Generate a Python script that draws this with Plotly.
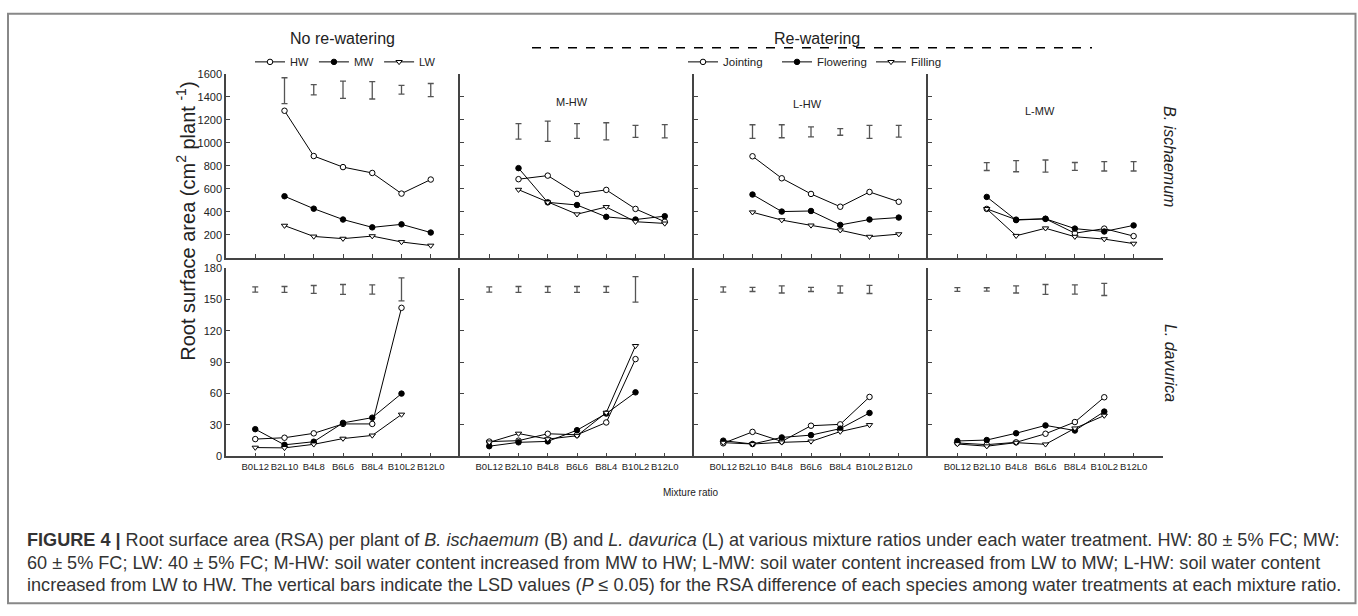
import plotly.graph_objects as go

W, H = 1358, 616

categories = ["B0L12", "B2L10", "B4L8", "B6L6", "B8L4", "B10L2", "B12L0"]
b_cats = categories[1:]   # B. ischaemum present
l_cats = categories[:6]   # L. davurica present

# ---- B. ischaemum RSA (cm2 plant-1) ----
b_none_HW = [1278, 885, 789, 738, 559, 681]
b_none_MW = [536, 428, 334, 266, 292, 221]
b_none_LW = [281, 187, 168, 190, 139, 108]
b_mhw_joint = [684, 715, 557, 591, 426, 315]
b_mhw_flower = [780, 483, 460, 357, 334, 363]
b_mhw_fill = [593, 483, 380, 443, 315, 300]
b_lhw_joint = [883, 692, 556, 445, 573, 488]
b_lhw_flower = [551, 403, 408, 287, 334, 351]
b_lhw_fill = [397, 329, 283, 241, 185, 207]
b_lmw_joint = [426, 333, 340, 215, 255, 190]
b_lmw_flower = [530, 329, 340, 255, 230, 283]
b_lmw_fill = [426, 193, 258, 185, 164, 125]

# ---- L. davurica RSA (cm2 plant-1) ----
l_none_HW = [16.5, 17.8, 22, 31, 31, 142]
l_none_MW = [26, 11, 14, 32, 37, 60]
l_none_LW = [8.4, 8.1, 11.5, 17, 20, 40]
l_mhw_joint = [14.1, 15, 21.6, 20.6, 32.4, 93]
l_mhw_flower = [9.7, 13.4, 14.3, 25, 40.9, 61.2]
l_mhw_fill = [13.4, 21.8, 16.5, 19.7, 41.8, 105.6]
l_lhw_joint = [12.5, 23.4, 14.3, 29.3, 30.6, 56.8]
l_lhw_flower = [15, 11.8, 18.1, 20.3, 26.5, 41.5]
l_lhw_fill = [13.1, 11.8, 13.4, 14.3, 23.7, 30]
l_lmw_joint = [12.8, 11.2, 13.4, 21.6, 32.8, 56.5]
l_lmw_flower = [14.7, 15.6, 22.1, 29.6, 24.7, 42.8]
l_lmw_fill = [11.8, 9.7, 13.1, 11.5, 26.8, 39]

# ---- LSD bars (position of bar centre and LSD length) ----
lsd_b_none_pos = [1452, 1460, 1460, 1455, 1460, 1458]
lsd_b_none = [225, 88, 150, 150, 76, 113]
lsd_b_mhw_pos = [1099, 1100, 1102, 1100, 1099, 1100]
lsd_b_mhw = [134, 175, 127, 148, 104, 114]
lsd_b_lhw_pos = [1097, 1100, 1095, 1094, 1094, 1100]
lsd_b_lhw = [119, 113, 86, 57, 113, 102]
lsd_b_lmw_pos = [794, 797, 798, 795, 796, 796]
lsd_b_lmw = [69, 97, 105, 68, 82, 82]

lsd_l_pos = [159.6, 159.6, 159.6, 159.6, 159.6, 159.6]
lsd_l_none = [5, 5.6, 7.5, 9.4, 8.8, 22]
lsd_l_mhw = [5, 5.6, 5.6, 5.6, 5.6, 24.4]
lsd_l_lhw = [5, 4, 6.8, 4, 6.8, 7.8]
lsd_l_lmw = [3.6, 3.2, 6.8, 9.4, 8.8, 11.6]

names_none = ["HW", "MW", "LW"]
names_re = ["Jointing", "Flowering", "Filling"]

FONT = "Liberation Sans, Arial, sans-serif"
AXC = "#444444"

styles = [
    dict(symbol="circle", color="white"),
    dict(symbol="circle", color="black"),
    dict(symbol="triangle-down", color="white"),
]

panels = [
    # row, col, cats, series, names, legend, lsd_pos, lsd
    (0, 0, b_cats, [b_none_HW, b_none_MW, b_none_LW], names_none, "legend", lsd_b_none_pos, lsd_b_none),
    (0, 1, b_cats, [b_mhw_joint, b_mhw_flower, b_mhw_fill], names_re, "legend2", lsd_b_mhw_pos, lsd_b_mhw),
    (0, 2, b_cats, [b_lhw_joint, b_lhw_flower, b_lhw_fill], names_re, "legend2", lsd_b_lhw_pos, lsd_b_lhw),
    (0, 3, b_cats, [b_lmw_joint, b_lmw_flower, b_lmw_fill], names_re, "legend2", lsd_b_lmw_pos, lsd_b_lmw),
    (1, 0, l_cats, [l_none_HW, l_none_MW, l_none_LW], names_none, "legend", lsd_l_pos, lsd_l_none),
    (1, 1, l_cats, [l_mhw_joint, l_mhw_flower, l_mhw_fill], names_re, "legend2", lsd_l_pos, lsd_l_mhw),
    (1, 2, l_cats, [l_lhw_joint, l_lhw_flower, l_lhw_fill], names_re, "legend2", lsd_l_pos, lsd_l_lhw),
    (1, 3, l_cats, [l_lmw_joint, l_lmw_flower, l_lmw_fill], names_re, "legend2", lsd_l_pos, lsd_l_lmw),
]

# pixel geometry of panels
col_px = [226, 460, 694, 928, 1163]
row_px = [(69, 257), (267.3, 459.3)]
yranges = [[0, 1600], [0, 180]]
ydticks = [200, 30]

fig = go.Figure()
layout = {}

for (r, c, cats, series, names, leg, lpos, lsd) in panels:
    idx = r * 4 + c + 1
    xa = "x" if idx == 1 else f"x{idx}"
    ya = "y" if idx == 1 else f"y{idx}"
    # LSD bars
    fig.add_trace(go.Scatter(
        x=cats, y=lpos, mode="markers",
        marker=dict(size=1, color="rgba(0,0,0,0)"),
        error_y=dict(type="data", array=[v / 2 for v in lsd], symmetric=True,
                     color="#555555", thickness=1.3, width=3),
        xaxis=xa, yaxis=ya, showlegend=False, hoverinfo="skip"))
    for k, vals in enumerate(series):
        st = styles[k]
        fig.add_trace(go.Scatter(
            x=cats, y=vals, mode="lines+markers", name=names[k],
            line=dict(color="black", width=1),
            marker=dict(symbol=st["symbol"], size=5.5, color=st["color"],
                        line=dict(color="black", width=1)),
            xaxis=xa, yaxis=ya, legend=leg,
            showlegend=(r == 0 and c in (0, 1))))

    x0, x1 = col_px[c] / W, col_px[c + 1] / W
    yt, yb = row_px[r]
    key_x = "xaxis" if idx == 1 else f"xaxis{idx}"
    key_y = "yaxis" if idx == 1 else f"yaxis{idx}"
    layout[key_x] = dict(
        domain=[x0, x1], anchor=ya, type="category",
        categoryorder="array", categoryarray=categories,
        range=[-1, 7], tickvals=categories, showticklabels=(r == 1),
        tickangle=0,
        ticks="inside", ticklen=4, tickcolor=AXC, tickwidth=1,
        showline=True, linecolor=AXC, linewidth=1.5,
        showgrid=False, zeroline=False,
        tickfont=dict(family=FONT, size=9.5, color="#222222"))
    layout[key_y] = dict(
        domain=[1 - yb / H, 1 - yt / H], anchor=xa,
        range=yranges[r], dtick=ydticks[r], tick0=0,
        showticklabels=(c == 0),
        ticks="inside", ticklen=4, tickcolor=AXC, tickwidth=1,
        showline=True, linecolor=AXC, linewidth=1.5,
        showgrid=False, zeroline=False,
        tickfont=dict(family=FONT, size=11, color="#222222"))

annotations = []

def ann(text, xpx, ypx, size, angle=0, xanchor="center", color="#222222"):
    annotations.append(dict(
        text=text, x=xpx / W, y=1 - ypx / H, xref="paper", yref="paper",
        showarrow=False, textangle=angle, xanchor=xanchor, yanchor="middle",
        font=dict(family=FONT, size=size, color=color)))

ann("No re-watering", 342, 33, 16)
ann("Re-watering", 817, 33, 16)
ann("M-HW", 572, 98, 11)
ann("L-HW", 807, 100, 11)
ann("L-MW", 1040, 107, 11)
ann("<i>B. ischaemum</i>", 1170, 153, 16, angle=90)
ann("<i>L. davurica</i>", 1170, 364, 16, angle=90)
ann("Root surface area (cm<sup>2</sup> plant <sup>-1</sup>)", 186, 220, 20, angle=-90)
ann("Mixture ratio", 690, 496, 10)

cap1 = ("<b>FIGURE 4 |</b> Root surface area (RSA) per plant of <i>B. ischaemum</i> (B) and "
        "<i>L. davurica</i> (L) at various mixture ratios under each water treatment. "
        "HW: 80 ± 5% FC; MW:")
cap2 = ("60 ± 5% FC; LW: 40 ± 5% FC; M-HW: soil water content increased from MW to HW; "
        "L-MW: soil water content increased from LW to MW; L-HW: soil water content")
cap3 = ("increased from LW to HW. The vertical bars indicate the LSD values (<i>P</i> ≤ 0.05) "
        "for the RSA difference of each species among water treatments at each mixture ratio.")
ann(cap1, 25, 545, 18.1, xanchor="left", color="#333333")
ann(cap2, 25, 568, 18.1, xanchor="left", color="#333333")
ann(cap3, 25, 590, 18.1, xanchor="left", color="#333333")

shapes = [
    dict(type="line", xref="paper", yref="paper", x0=532 / W, x1=1092 / W,
         y0=1 - 42.7 / H, y1=1 - 42.7 / H,
         line=dict(color="black", width=1.5, dash="dash")),
    dict(type="rect", xref="paper", yref="paper", x0=8 / W, x1=1355.5 / W,
         y0=1 - 609 / H, y1=1 - 8 / H,
         line=dict(color="#888888", width=2)),
]

fig.update_layout(
    width=W, height=H,
    margin=dict(l=0, r=0, t=0, b=0),
    paper_bgcolor="white", plot_bgcolor="white",
    font=dict(family=FONT, color="#222222"),
    annotations=annotations, shapes=shapes,
    legend=dict(orientation="h", x=250 / W, xanchor="left", y=1 - 57 / H, yanchor="middle",
                font=dict(family=FONT, size=11, color="#222222"), itemwidth=30,
                bgcolor="rgba(0,0,0,0)", borderwidth=0),
    legend2=dict(orientation="h", x=683 / W, xanchor="left", y=1 - 57 / H, yanchor="middle",
                 font=dict(family=FONT, size=11.5, color="#222222"), itemwidth=30,
                 entrywidth=49, entrywidthmode="pixels",
                 bgcolor="rgba(0,0,0,0)", borderwidth=0),
    **layout,
)

fig.write_html("out.html", config={"displayModeBar": False},
               post_script="document.body.style.margin='0px';")
